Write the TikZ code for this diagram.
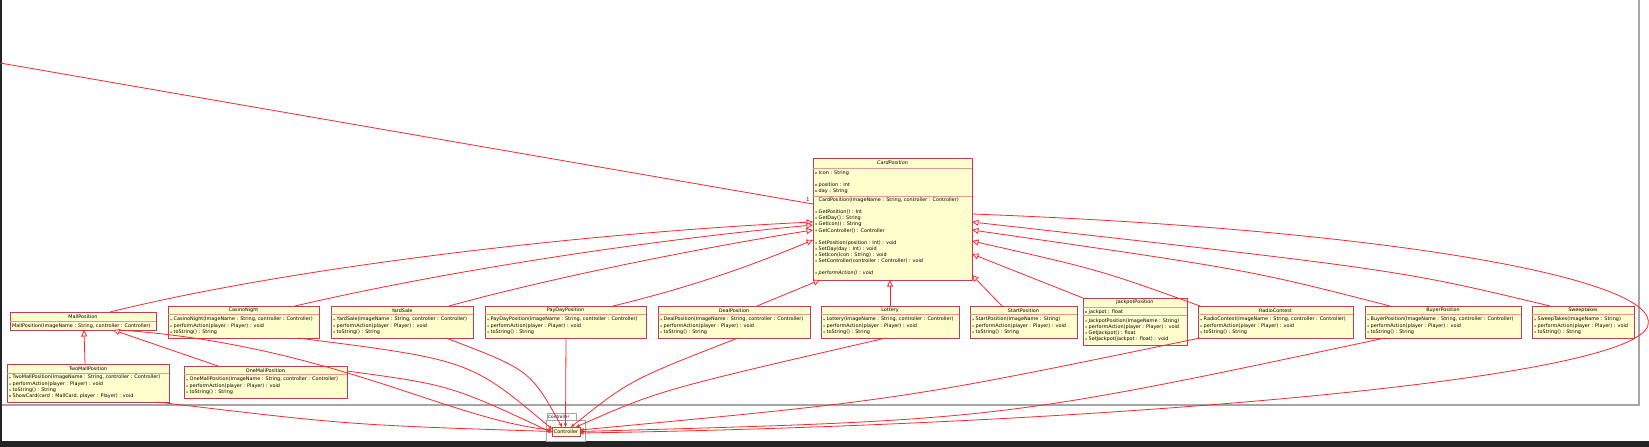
\documentclass[tikz,border=0pt]{standalone}
\usepackage{fontspec}
\setmainfont{DejaVu Sans}
\usetikzlibrary{arrows.meta,calc}
\definecolor{clsfill}{RGB}{255,255,206}
\definecolor{clsborder}{RGB}{190,60,95}
\definecolor{sepc}{RGB}{225,150,160}
\definecolor{linered}{RGB}{250,40,45}
\definecolor{pubg}{RGB}{80,170,90}
\definecolor{privr}{RGB}{220,110,110}
\definecolor{framegray}{RGB}{165,165,165}
\definecolor{darkband}{RGB}{35,35,35}
\tikzset{
  cls/.style={draw=clsborder, fill=clsfill, line width=0.9pt, inner sep=0pt, outer sep=0pt, anchor=north west},
  ttl/.style={font=\fontsize{4.9}{6}\selectfont, inner sep=0pt},
  mem/.style={font=\fontsize{4.9}{6}\selectfont, inner sep=0pt, anchor=west},
  pub/.style={circle, fill=pubg, minimum size=2pt, inner sep=0pt},
  priv/.style={rectangle, fill=privr, minimum size=2.4pt, inner sep=0pt},
  nobul/.style={inner sep=0pt, minimum size=0pt},
  sepline/.style={draw=sepc, line width=0.8pt},
  assoc/.style={draw=linered, line width=0.8pt, -{Stealth[length=4pt,width=3.5pt]}},
  plainline/.style={draw=linered, line width=0.8pt},
  gen/.style={draw=linered, line width=0.8pt, -{Triangle[open,length=6.5pt,width=6pt,fill=white]}},
}
\newcommand\ubox[6]{%
  \node[cls, minimum width={(#4-#2)*1pt}, minimum height={(#5-#3)*1pt}] (#1) at (#2,#3) {};
  \node[ttl] (#1-title) at ({(#2+#4)/2},#3+4.5) {#6};
}
\newcommand\usep[2]{\draw[sepline] ([yshift=-#2pt]#1.north west) -- ([yshift=-#2pt]#1.north east);}
\newcommand\um[5]{%
  \node[#4] (#1-b) at (#2+3,#3) {};
  \node[mem] (#1) at (#2+5.5,#3) {#5};
}
\newcommand\threebox[5]{%
  \ubox{#1}{#2}{306}{#3}{338}{#4}
  \usep{#1}{8.5}
  \um{#1-m1}{#2}{319.5}{pub}{#5}
  \um{#1-m2}{#2}{326}{pub}{performAction(player : Player) : void}
  \um{#1-m3}{#2}{332}{pub}{toString() : String}
}
\begin{document}
\begin{tikzpicture}[x=1pt,y=-1pt]
\useasboundingbox (0,0) rectangle (1649,447);
\fill[white] (0,0) rectangle (1649,447);
\fill[darkband] (0,0) rectangle (2,441);
\fill[darkband] (0,441) rectangle (1649,447);
\draw[framegray, line width=1.3pt] (2,405) -- (1639,405) -- (1639,0);

% CardPosition
\ubox{card}{813}{158}{972}{280}{\itshape CardPosition}
\usep{card}{10}
\um{card-a1}{813}{173}{priv}{Icon : String}
\um{card-a2}{813}{185}{priv}{position : Int}
\um{card-a3}{813}{191}{priv}{day : String}
\usep{card}{38}
\um{card-m0}{813}{200}{nobul}{CardPosition(ImageName : String, controller : Controller)}
\um{card-m1}{813}{212}{pub}{GetPosition() : Int}
\um{card-m2}{813}{218}{pub}{GetDay() : String}
\um{card-m3}{813}{224}{pub}{GetIcon() : String}
\um{card-m4}{813}{230.5}{pub}{GetController() : Controller}
\um{card-m5}{813}{243}{pub}{SetPosition(position : Int) : void}
\um{card-m6}{813}{249}{pub}{SetDay(day : Int) : void}
\um{card-m7}{813}{255}{pub}{SetIcon(Icon : String) : void}
\um{card-m8}{813}{261}{pub}{SetController(controller : Controller) : void}
\um{card-m9}{813}{273}{pub}{\itshape performAction() : void}

% MallPosition
\ubox{mall}{10}{312}{156}{330}{MallPosition}
\usep{mall}{9}
\node[mem] (mall-m1) at (12,326) {MallPosition(ImageName : String, controller : Controller)};

% TwoMallPosition
\ubox{two}{7}{364}{169}{402}{TwoMallPosition}
\usep{two}{9}
\um{two-m1}{7}{377.5}{pub}{TwoMallPosition(ImageName : String, controller : Controller)}
\um{two-m2}{7}{384}{pub}{performAction(player : Player) : void}
\um{two-m3}{7}{390}{pub}{toString() : String}
\um{two-m4}{7}{396}{priv}{ShowCard(card : MallCard, player : Player) : void}

% OneMallPosition
\ubox{one}{184}{366}{347}{398}{OneMallPosition}
\usep{one}{8.5}
\um{one-m1}{184}{379.5}{pub}{OneMallPosition(ImageName : String, controller : Controller)}
\um{one-m2}{184}{386}{pub}{performAction(player : Player) : void}
\um{one-m3}{184}{392}{pub}{toString() : String}

\threebox{casino}{168}{319}{CasinoNight}{CasinoNight(ImageName : String, controller : Controller)}
\threebox{yard}{331}{473}{YardSale}{YardSale(ImageName : String, controller : Controller)}
\threebox{payday}{485}{646}{PayDayPosition}{PayDayPosition(ImageName : String, controller : Controller)}
\threebox{deal}{658}{810}{DealPosition}{DealPosition(ImageName : String, controller : Controller)}
\threebox{lottery}{821}{959}{Lottery}{Lottery(ImageName : String, controller : Controller)}
\threebox{start}{970}{1077}{StartPosition}{StartPosition(ImageName : String)}
\threebox{radio}{1198}{1353}{RadioContest}{RadioContest(ImageName : String, controller : Controller)}
\threebox{buyer}{1365}{1521}{BuyerPosition}{BuyerPosition(ImageName : String, controller : Controller)}
\threebox{sweep}{1532}{1634}{Sweeptakes}{SweepTakes(ImageName : String)}

% JackpotPosition
\ubox{jack}{1083}{298}{1187}{345}{JackpotPosition}
\usep{jack}{9}
\um{jack-a1}{1083}{312}{priv}{jackpot : float}
\usep{jack}{17}
\um{jack-m1}{1083}{321}{pub}{JackpotPosition(ImageName : String)}
\um{jack-m2}{1083}{327}{pub}{performAction(player : Player) : void}
\um{jack-m3}{1083}{333}{pub}{GetJackpot() : float}
\um{jack-m4}{1083}{339}{pub}{SetJackpot(jackpot : float) : void}

% Controller package
\draw[framegray, line width=0.7pt] (547,420) rectangle (576,413);
\node[ttl, anchor=west] (pkgname) at (548,416.5) {\fontsize{4.3}{5}\selectfont Controller};
\draw[framegray, line width=0.7pt] (546,420) rectangle (585,441);
\node[cls, minimum width=28pt, minimum height=9pt] (ctrl) at (552,427) {};
\node[ttl] (ctrl-title) at (566,431.5) {Controller};

% external association
\coordinate (ext) at (0,63);
\draw[plainline] (ext) -- ($(card.north west)+(0,46)$);
\node[ttl] (mult) at (808,200) {1};

% generalizations
\draw[gen] ($(mall.north west)+(100,0)$) .. controls (300,265) and (600,232) .. ($(card.north west)+(0,64)$);
\draw[gen] ($(casino.north west)+(127,0)$) .. controls (450,270) and (650,240) .. ($(card.north west)+(0,67)$);
\draw[gen] ($(yard.north west)+(118,0)$) .. controls (550,278) and (700,248) .. ($(card.north west)+(0,72)$);
\draw[gen] ($(payday.north west)+(128,0)$) .. controls (700,285) and (760,262) .. ($(card.north west)+(0,82)$);
\draw[gen] ($(deal.north west)+(99,0)$) -- ($(card.north west)+(7,122)$);
\draw[gen] ($(lottery.north west)+(69,0)$) -- ($(card.north west)+(77,122)$);
\draw[gen] ($(start.north west)+(32,0)$) -- ($(card.north east)+(0,117)$);
\draw[gen] (jack.north west) -- ($(card.north east)+(0,96)$);
\draw[gen] ($(radio.north west)+(2,0)$) .. controls (1100,270) .. ($(card.north east)+(0,83)$);
\draw[gen] ($(buyer.north west)+(25,0)$) .. controls (1250,270) .. ($(card.north east)+(0,72)$);
\draw[gen] ($(sweep.north west)+(18,0)$) .. controls (1400,270) .. ($(card.north east)+(0,64)$);
\draw[gen] ($(two.north west)+(78,0)$) -- ($(mall.south west)+(74,0)$);
\draw[gen] ($(one.north west)+(34,0)$) -- ($(mall.south west)+(103,0)$);

% associations to Controller
\draw[assoc] ($(two.south west)+(150,0)$) .. controls (350,425) .. (ctrl.west);
\draw[assoc] ($(one.north east)+(0,5)$) .. controls (450,385) .. ([yshift=-1pt]ctrl.west);
\draw[assoc] ($(mall.south west)+(110,0)$) .. controls (330,345) and (450,420) .. ([yshift=1.5pt]ctrl.west);
\draw[assoc] ($(casino.south west)+(130,0)$) .. controls (470,360) .. ([yshift=2.5pt]ctrl.west);
\draw[assoc] ($(yard.south west)+(115,0)$) .. controls (530,370) .. ([xshift=-4pt]ctrl.north);
\draw[assoc] ($(payday.south west)+(81,0)$) -- ([xshift=-0.5pt]ctrl.north);
\draw[assoc] ($(deal.south west)+(80,0)$) .. controls (630,380) .. ([xshift=5pt]ctrl.north);
\draw[assoc] ($(lottery.south west)+(65,0)$) .. controls (660,390) .. ([xshift=10pt]ctrl.north);
\draw[assoc] ($(radio.south west)+(2,0)$) .. controls (900,400) .. ([yshift=1.5pt]ctrl.east);
\draw[assoc] ($(buyer.south west)+(20,0)$) .. controls (1000,420) .. (ctrl.east);
\draw[assoc] ($(card.north east)+(0,56)$) .. controls (1400,230) and (1660,280) .. (1648,325) .. controls (1636,380) and (1100,425) .. ([yshift=-1.5pt]ctrl.east);
\end{tikzpicture}
\end{document}
